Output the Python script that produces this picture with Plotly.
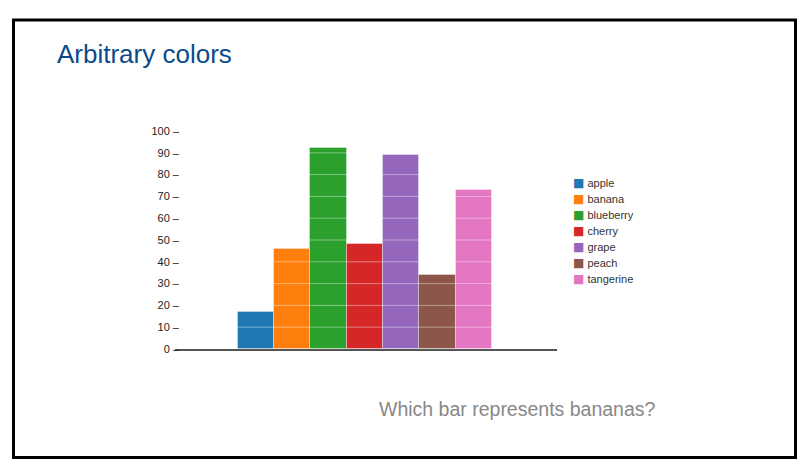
import plotly.graph_objects as go

fruits = ["apple", "banana", "blueberry", "cherry", "grape", "peach", "tangerine"]
values = [17, 46, 92, 48, 89, 34, 73]
colors = ["#1f77b4", "#ff7f0e", "#2ca02c", "#d62728", "#9467bd", "#8c564b", "#e377c2"]
y_ticks = [0, 10, 20, 30, 40, 50, 60, 70, 80, 90, 100]
y_ticktext = [f"{v} \u2013" for v in y_ticks]

title_text = "Arbitrary colors"
question_text = "Which bar represents bananas?"

W, H = 802, 467
L, R, T, B = 167, 253, 123, 126
PW, PH = W - L - R, H - T - B


def px(xp):
    return (xp - L) / PW


def py(yp):
    return (H - B - yp) / PH


fig = go.Figure()
for name, val, col in zip(fruits, values, colors):
    fig.add_trace(go.Bar(
        x=[name], y=[val], name=name,
        marker=dict(color=col, line=dict(color="rgba(255,255,255,0.35)", width=1)),
        width=1,
    ))

annotations = [dict(text=question_text, xref="paper", yref="paper",
                    x=px(369), xanchor="left", y=py(401), yanchor="middle",
                    showarrow=False, font=dict(size=19.5, color="#888"))]
# legend (swatch + label)
for i, (name, col) in enumerate(zip(fruits, colors)):
    annotations.append(dict(
        text=f"<span style='color:{col};font-family:DejaVu Sans;font-size:12px'>\u25a0</span> {name}",
        xref="paper", yref="paper", x=px(563), xanchor="left",
        y=py(175.3 + 16 * i), yanchor="middle", showarrow=False,
        font=dict(size=11, color="#333")))

# faint white gridlines drawn over the bars, at the y-axis tick values
shapes = [dict(type="line", xref="paper", yref="y", x0=0, x1=1, y0=v, y1=v,
               line=dict(color="rgba(255,255,255,0.4)", width=1), layer="above")
          for v in y_ticks if v > 0]
shapes.append(dict(type="rect", xref="paper", yref="paper",
                   x0=px(5.5), x1=px(787.5), y0=py(449.5), y1=py(12),
                   line=dict(color="black", width=3), fillcolor="rgba(0,0,0,0)", layer="below"))

fig.update_layout(
    width=W, height=H,
    margin=dict(l=L, r=R, t=T, b=B),
    paper_bgcolor="white", plot_bgcolor="white",
    barmode="relative", bargap=0,
    font=dict(family="Liberation Sans, Arial, sans-serif", color="#333"),
    title=dict(text=title_text, x=49/W, xanchor="left", xref="container",
               y=1-46/H, yanchor="middle", yref="container",
               font=dict(size=26, color="#0b4a8c", family="Liberation Sans, Arial, sans-serif")),
    showlegend=False,
    xaxis=dict(type="category", categoryorder="array", categoryarray=fruits,
               range=[-2.226, 8.289], showticklabels=False, ticks="",
               showgrid=False, zeroline=False, showline=True,
               linecolor="#555", linewidth=1.5, layer="above traces", fixedrange=True),
    yaxis=dict(range=[0, 100], tickvals=y_ticks, ticktext=y_ticktext, ticks="",
               tickfont=dict(size=11, color="#222"), ticklabelstandoff=-5,
               showgrid=False, zeroline=False, showline=False,
               layer="above traces", fixedrange=True),
    annotations=annotations,
    shapes=shapes,
)

fig.write_html("out.html")
